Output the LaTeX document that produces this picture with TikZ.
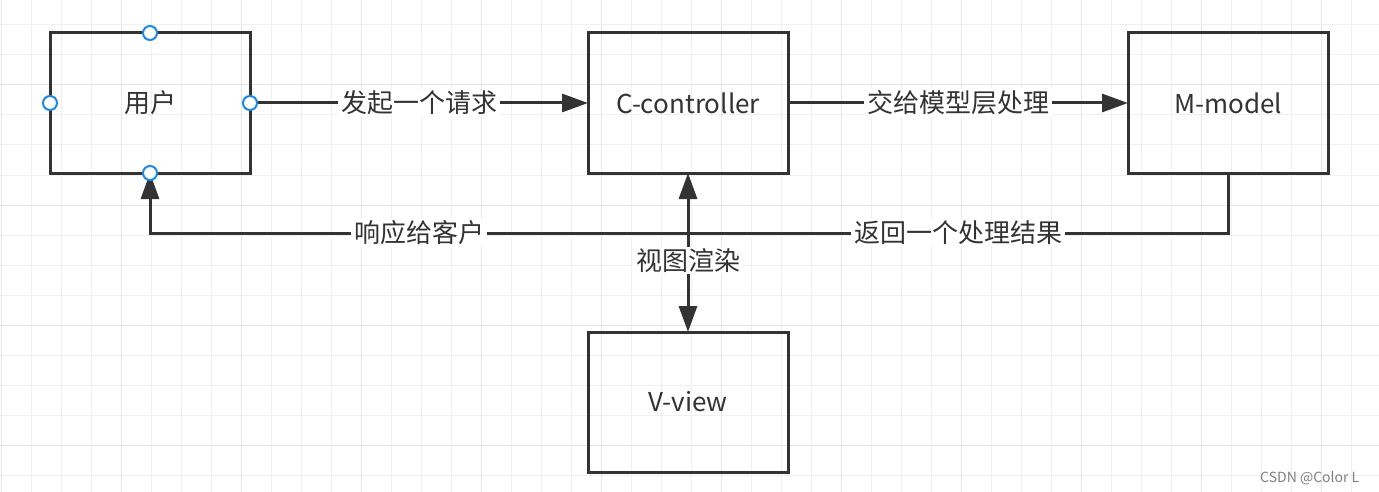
\documentclass[tikz,border=0pt]{standalone}
\usepackage{fontspec}
\setmainfont{Noto Sans CJK SC}
\usetikzlibrary{arrows.meta, positioning}
\definecolor{ink}{HTML}{333333}
\definecolor{gridminor}{HTML}{F0F0F0}
\definecolor{gridmajor}{HTML}{E6E6E6}
\definecolor{handleblue}{HTML}{1E88E5}
\tikzset{
    >={Triangle[length=19.5pt, width=13.5pt]},
    box/.style={draw=ink, line width=2.25pt, minimum width=150pt, minimum height=105pt, outer sep=0pt, text=ink, font=\fontsize{19.5pt}{23pt}\selectfont},
    flow/.style={draw=ink, line width=2.25pt},
    tag/.style={fill=white, inner xsep=2pt, inner ysep=1pt, text=ink, font=\fontsize{19.5pt}{23pt}\selectfont},
    handle/.style={circle, draw=handleblue, fill=white, line width=1.5pt, minimum size=10.5pt, inner sep=0pt}
}

\begin{document}
\begin{tikzpicture}[x=0.75pt, y=-0.75pt]
    \fill[white] (0,0) rectangle (1379,492);
    \useasboundingbox (0,0) rectangle (1379,492);
    \foreach \gx in {1,31,...,1379} \draw[gridminor, line width=0.75pt] (\gx,0) -- (\gx,492);
    \foreach \gy in {25,55,...,492} \draw[gridminor, line width=0.75pt] (0,\gy) -- (1379,\gy);
    \foreach \gx in {1,121,...,1379} \draw[gridmajor, line width=0.75pt] (\gx,0) -- (\gx,492);
    \foreach \gy in {85,205,...,492} \draw[gridmajor, line width=0.75pt] (0,\gy) -- (1379,\gy);

    \node[box]                         (user)  at (150,103) {用户};
    \node[box, right=253.5pt of user]  (ctrl)               {C-controller};
    \node[box, right=255pt of ctrl]    (model)              {M-model};
    \node[box, below=119.25pt of ctrl] (view)               {V-view};
    \coordinate[below=45pt of model]   (back);

    \draw[flow, ->] (user.east) -- node[tag] {发起一个请求} (ctrl.west);
    \draw[flow, ->] (ctrl.east) -- node[tag] {交给模型层处理} (model.west);
    \draw[flow, ->] (model.south) -- (back)
                    -- node[tag] {返回一个处理结果} (back -| ctrl)
                    -- node[tag] {响应给客户} (back -| user)
                    -- (user.south);
    \draw[flow, <->] (ctrl.south) -- node[tag, pos=0.55] {视图渲染} (view.north);

    \foreach \side in {north, south, east, west}
        \node[handle] (h-\side) at (user.\side) {};

    \node[anchor=east, text=gray, font=\fontsize{10.5pt}{12pt}\selectfont] (mark) at (1364,478) {CSDN @Color L};
\end{tikzpicture}
\end{document}
